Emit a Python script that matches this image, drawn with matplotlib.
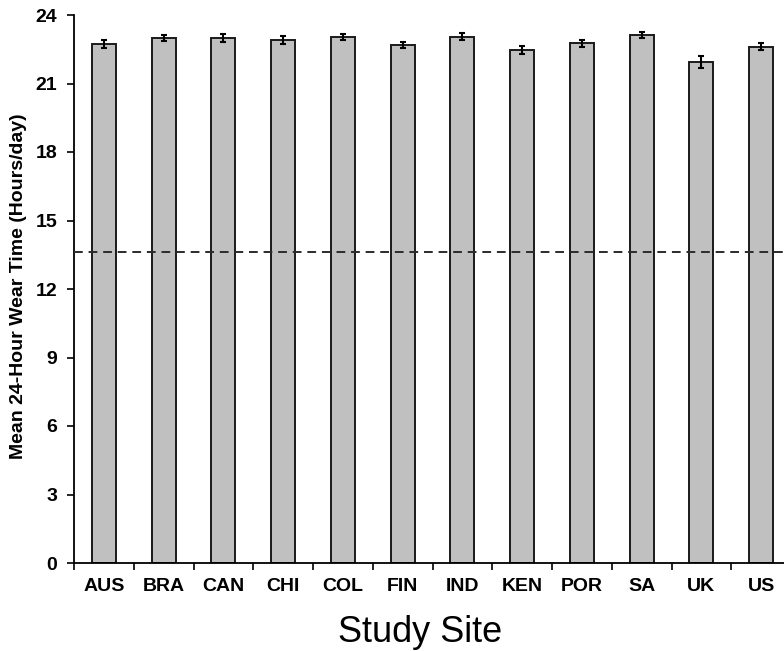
import numpy as np
import matplotlib

matplotlib.use("Agg")
import matplotlib.pyplot as plt

sites = ["AUS", "BRA", "CAN", "CHI", "COL", "FIN", "IND", "KEN", "POR", "SA", "UK", "US"]
mean_wear = [22.73, 22.99, 22.99, 22.91, 23.04, 22.69, 23.04, 22.47, 22.76, 23.13, 21.93, 22.62]
err_wear = [0.17, 0.13, 0.16, 0.18, 0.12, 0.12, 0.15, 0.18, 0.16, 0.13, 0.27, 0.16]
ref_line = 13.63
yticks = [0, 3, 6, 9, 12, 15, 18, 21, 24]

plt.rcParams["font.family"] = ["Liberation Sans", "DejaVu Sans"]

fig = plt.figure(figsize=(7.84, 6.51), dpi=100)
W, H = 784, 651
left, right, top, bottom = 74, 791, 15, 563
ax = fig.add_axes([left / W, 1 - bottom / H, (right - left) / W, (bottom - top) / H])

x = np.arange(len(sites))
ax.bar(x, mean_wear, width=0.4, color="#c0c0c0", edgecolor="#1a1a1a", linewidth=1.4,
       yerr=err_wear, capsize=2.2, error_kw=dict(ecolor="black", elinewidth=1.5, capthick=1.5),
       zorder=2)
ax.axhline(ref_line, color="#2b2b2b", lw=1.4, ls=(0, (4.5, 3)), zorder=3)

ax.set_xlim(-0.5, len(sites) - 0.5)
ax.set_ylim(0, 24)
ax.set_yticks(yticks)
ax.set_xticks(np.arange(len(sites) + 1) - 0.5)
ax.set_xticklabels([])
ax.set_xticks(x, minor=True)
ax.set_xticklabels(sites, minor=True, fontsize=14, fontweight="bold")
ax.tick_params(axis="x", which="minor", length=0, pad=11)
ax.tick_params(axis="x", which="major", length=5, width=1.2, direction="out")
ax.tick_params(axis="y", length=5, width=1.2, direction="out", pad=7)
for lab in ax.get_yticklabels():
    lab.set_fontsize(14)
    lab.set_fontweight("bold")

for s in ("top", "right"):
    ax.spines[s].set_visible(False)
for s in ("left", "bottom"):
    ax.spines[s].set_linewidth(1.3)

ax.set_ylabel("Mean 24-Hour Wear Time (Hours/day)", fontsize=14, fontweight="bold")
ax.yaxis.set_label_coords(-0.066, 0.505)
ax.set_xlabel("Study Site", fontsize=26)
ax.xaxis.set_label_coords(0.483, -0.095)

fig.savefig("out.png", dpi=100)
